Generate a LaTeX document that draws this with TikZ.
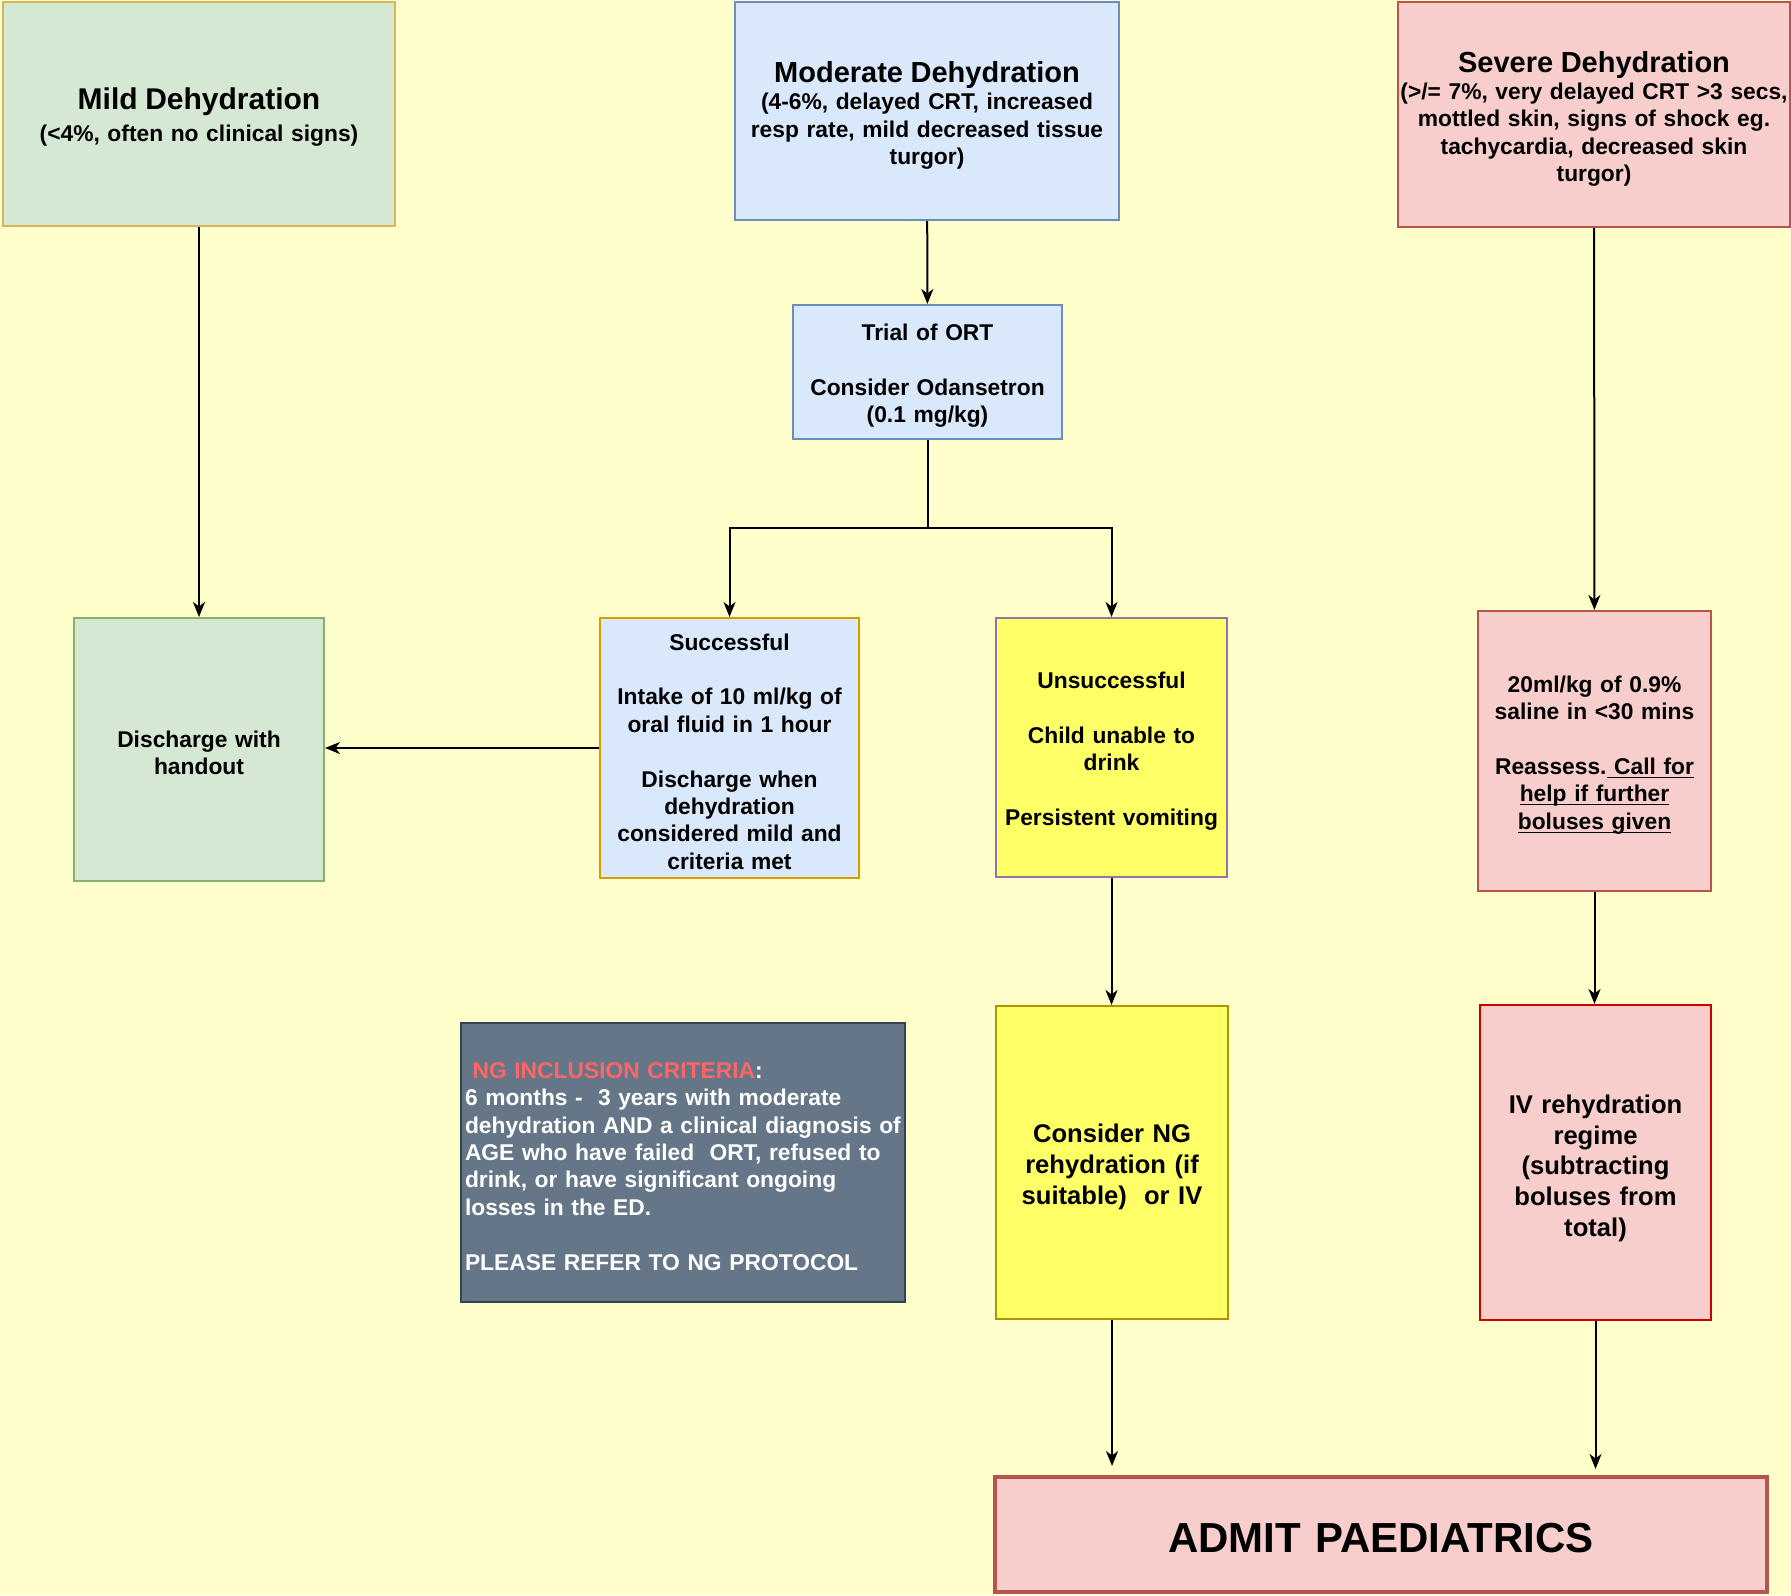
\documentclass[tikz,border=0pt]{standalone}
\usepackage{fontspec}
\setmainfont{Liberation Sans}
\usetikzlibrary{arrows.meta}
\newcommand{\uln}[1]{\underline{\smash{#1}}}
\definecolor{bg}{HTML}{FFFFCC}
\definecolor{g1}{HTML}{D5E8D4}
\definecolor{g2}{HTML}{82B366}
\definecolor{b1}{HTML}{DAE8FC}
\definecolor{b2}{HTML}{6C8EBF}
\definecolor{r1}{HTML}{F8CECC}
\definecolor{r2}{HTML}{B85450}
\definecolor{r3}{HTML}{CC0000}
\definecolor{y1}{HTML}{FFFF66}
\definecolor{y2}{HTML}{B09500}
\definecolor{o2}{HTML}{D79B00}
\definecolor{o3}{HTML}{D6B656}
\definecolor{v2}{HTML}{9673A6}
\definecolor{s1}{HTML}{647687}
\definecolor{s2}{HTML}{314354}
\definecolor{ng}{HTML}{FF6666}
\tikzset{
    arrow/.style={-{Stealth[length=7.5pt,width=6pt,inset=2.2pt]},line width=1pt},
    drop/.style={execute at begin node={\rule{0pt}{\dimexpr\fontcharht\font40+#1\relax}}},
    boxsize/.style 2 args={text width=#1, minimum width=#1, minimum height=#2},
    box/.style={draw,line width=1pt,align=center,inner xsep=0pt,inner ysep=2pt,drop=4pt,
        font=\bfseries\fontsize{11.4}{13.7}\selectfont},
    bigbox/.style={box,font=\bfseries\fontsize{12.8}{15.4}\selectfont}
}

\begin{document}
\begin{tikzpicture}[x=0.5pt, y=-0.5pt]
			\fill[bg] (0,0) rectangle (1791,1595);
			% top row
			\node[box, drop=6pt, fill=g1, draw=o3, boxsize={196pt}{112pt}] (mild) at (199,114)
				{{\fontsize{15}{17}\selectfont Mild Dehydration}\\[2.3pt](<4\%, often no clinical signs)};
			\node[box, drop=6.9pt, fill=b1, draw=b2, boxsize={192pt}{109pt}] (moderate) at (927,111)
				{{\fontsize{14.5}{17}\selectfont Moderate Dehydration}\\(4-6\%, delayed CRT, increased\\resp rate, mild decreased tissue\\turgor)};
			\node[box, drop=6.9pt, fill=r1, draw=r2, boxsize={196pt}{112.5pt}] (severe) at (1594,114.5)
				{{\fontsize{14.5}{17}\selectfont Severe Dehydration}\\(>/= 7\%, very delayed CRT >3 secs,\\mottled skin, signs of shock eg.\\tachycardia, decreased skin\\turgor)};
			\node[box, fill=b1, draw=b2, boxsize={134.5pt}{67pt}] (trial) at (927.5,372)
				{Trial of ORT\\[\baselineskip]Consider Odansetron\\(0.1 mg/kg)};
			% middle row
			\node[box, drop=1.7pt, fill=g1, draw=g2, boxsize={125pt}{131.5pt}] (discharge) at (199,749.5)
				{Discharge with\\handout};
			\node[box, drop=1.3pt, fill=b1, draw=o2, boxsize={129.5pt}{130pt}] (successful) at (729.5,748)
				{Successful\\[\baselineskip]Intake of 10 ml/kg of\\oral fluid in 1 hour\\[\baselineskip]Discharge when\\dehydration\\considered mild and\\criteria met};
			\node[box, fill=y1, draw=v2, boxsize={115.5pt}{129.5pt}] (unsuccessful) at (1111.5,747.5)
				{Unsuccessful\\[\baselineskip]Child unable to\\drink\\[\baselineskip]Persistent vomiting};
			\node[box, fill=r1, draw=r2, boxsize={116.5pt}{140pt}] (bolus) at (1594.5,751)
				{20ml/kg of 0.9\%\\saline in <30 mins\\[\baselineskip]Reassess.\uln{ Call for}\\\uln{help if further}\\\uln{boluses given}};
			% bottom row
			\node[box, drop=3.4pt, fill=s1, draw=s2, text=white, align=left, inner xsep=2pt, text width=218pt, minimum height=139.5pt] (nginfo) at (683,1162.5)
				{~\textcolor{ng}{NG INCLUSION CRITERIA}:\\6 months - \ 3 years with moderate\\dehydration AND a clinical diagnosis of\\AGE who have failed \ ORT, refused to\\drink, or have significant ongoing\\losses in the ED.\\[\baselineskip]PLEASE REFER TO NG PROTOCOL};
			\node[bigbox, drop=5.1pt, fill=y1, draw=y2, boxsize={116pt}{156.5pt}] (considerng) at (1112,1162.5)
				{Consider NG\\rehydration (if\\suitable) \ or IV};
			\node[bigbox, drop=6.3pt, fill=r1, draw=r3, boxsize={115.5pt}{157.5pt}] (iv) at (1595.5,1162.5)
				{IV rehydration\\regime\\(subtracting\\boluses from\\total)};
			\node[box, drop=3.4pt, fill=r1, draw=r2, line width=2pt, boxsize={386pt}{57.5pt},
				font=\bfseries\fontsize{21}{25}\selectfont] (admit) at (1381,1534.5) {ADMIT PAEDIATRICS};
			% connectors
			\coordinate (split) at (927.5,528);
			\draw[arrow] (mild) -- (discharge);
			\draw[arrow] (moderate) -- (trial);
			\draw[line width=1pt] (trial) -- (split);
			\draw[arrow] (split) -| (successful);
			\draw[arrow] (split) -| (unsuccessful);
			\draw[arrow] (successful.west) -- (successful.west -| discharge.east);
			\draw[arrow] (unsuccessful.south) -- (unsuccessful.south |- considerng.north);
			\draw[arrow] (severe) -- (bolus);
			\draw[arrow] (bolus.south) -- (bolus.south |- iv.north);
			\draw[arrow, shorten >=4.5pt] (considerng.south) -- (considerng.south |- admit.north);
			\draw[arrow, shorten >=3pt] (iv.south) -- (iv.south |- admit.north);
		\end{tikzpicture}
\end{document}
